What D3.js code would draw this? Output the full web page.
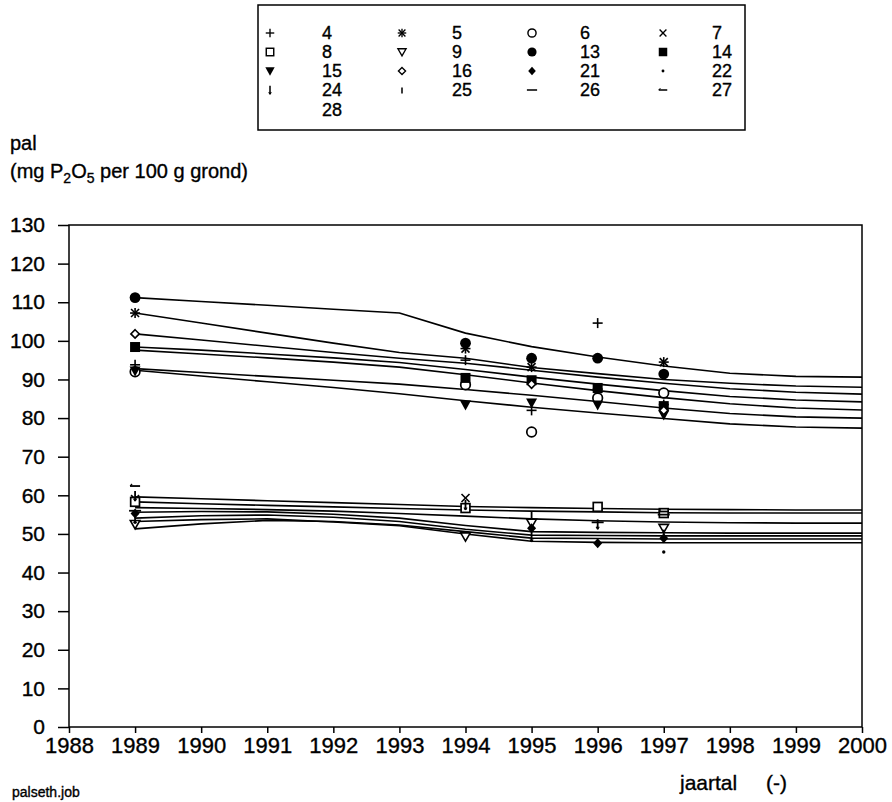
<!DOCTYPE html>
<html>
<head>
<meta charset="utf-8">
<script src="https://cdn.jsdelivr.net/npm/d3@7"></script>
<style>
  html, body { margin: 0; padding: 0; background: #fff; }
  svg { display: block; }
  text { font-family: "Liberation Sans", Arial, Helvetica, sans-serif; fill: #000; stroke: #000; stroke-width: 0.35px; }
</style>
</head>
<body>
<svg id="chart" width="892" height="802"></svg>
<script>
// ---- data -------------------------------------------------------------
const series = ["4", "5", "6", "7", "8", "9", "13", "14", "15", "16", "21", "22", "24", "25", "26", "27", "28"];

// years with measured P-AL values
const measYears = [1989, 1994, 1995, 1996, 1997];
const obs4  = [93.8, 95.0, 82.0, 104.6, 83.5];
const obs5  = [107.2, 98.0, 93.2, 87.5, 94.5];
const obs6  = [92.0, 88.6, 76.4, 85.2, 86.5];
const obs7  = [59.0, 59.3, null, null, null];
const obs8  = [58.3, 56.7, null, 57.0, 55.4];
const obs9  = [52.5, 49.3, 52.8, null, 51.5];
const obs13 = [111.2, 99.4, 95.5, 95.5, 91.4];
const obs14 = [98.4, 90.4, 89.8, 87.8, 83.1];
const obs15 = [92.2, 83.4, 83.9, 83.4, 80.8];
const obs16 = [101.8, null, 88.8, null, 82.0];
const obs21 = [55.3, null, 51.5, 47.6, 48.9];
const obs22 = [53.0, null, null, null, 45.3];
const obs24 = [59.8, 57.5, 49.2, 52.5, 49.8];
const obs25 = [54.0, null, 54.9, null, null];
const obs26 = [56.0, null, null, 53.0, 55.0];
const obs27 = [62.4, null, null, null, 55.8];
const obs28 = [null, null, null, null, null];

// simulated course per year
const fitYears = [1989, 1990, 1991, 1992, 1993, 1994, 1995, 1996, 1997, 1998, 1999, 2000];
const fit13 = [111.2, 110.2, 109.2, 108.2, 107.2, 102.0, 98.5, 95.8, 93.5, 91.6, 90.8, 90.6];
const fit5  = [107.2, 104.6, 102.0, 99.4, 97.0, 95.5, 93.1, 91.5, 90.0, 89.0, 88.3, 88.0];
const fit16 = [101.8, 100.2, 98.6, 97.0, 95.5, 94.2, 92.4, 90.6, 89.0, 87.6, 86.7, 86.2];
const fit14 = [98.4, 97.6, 96.6, 95.6, 94.4, 92.6, 90.6, 88.8, 87.1, 85.6, 84.7, 84.2];
const fit4  = [97.6, 96.6, 95.6, 94.5, 93.2, 91.2, 89.1, 87.1, 85.3, 83.7, 82.6, 82.1];
const fit6  = [92.8, 91.8, 90.8, 89.8, 88.8, 87.4, 85.9, 84.3, 82.6, 81.2, 80.3, 80.0];
const fit15 = [92.4, 90.9, 89.4, 87.9, 86.3, 84.5, 82.8, 81.3, 79.9, 78.5, 77.7, 77.4];
const fit7  = [59.6, 59.1, 58.6, 58.1, 57.6, 57.1, 56.8, 56.6, 56.4, 56.3, 56.2, 56.2];
const fit8  = [58.3, 57.8, 57.4, 57.0, 56.6, 56.2, 55.9, 55.7, 55.5, 55.4, 55.4, 55.4];
const fit26 = [56.8, 56.6, 56.3, 55.9, 55.3, 54.6, 53.9, 53.4, 53.1, 52.9, 52.8, 52.8];
const fit28 = [55.6, 55.8, 55.7, 55.1, 54.1, 52.2, 50.6, 50.4, 50.3, 50.2, 50.2, 50.2];
const fit25 = [54.1, 54.7, 54.9, 54.3, 53.2, 51.2, 49.7, 49.6, 49.5, 49.5, 49.5, 49.5];
const fit9  = [51.3, 52.6, 53.5, 53.2, 52.3, 50.6, 48.9, 48.8, 48.7, 48.7, 48.7, 48.7];
const fit21 = [53.2, 53.7, 53.9, 53.1, 52.1, 50.0, 48.1, 47.8, 47.7, 47.7, 47.7, 47.7];

const xTicks = [1988, 1989, 1990, 1991, 1992, 1993, 1994, 1995, 1996, 1997, 1998, 1999, 2000];
const yTicks = [0, 10, 20, 30, 40, 50, 60, 70, 80, 90, 100, 110, 120, 130];

// ---- tables built from the arrays ------------------------------------
const obsBySeries = {
  "4": obs4, "5": obs5, "6": obs6, "7": obs7, "8": obs8, "9": obs9, "13": obs13,
  "14": obs14, "15": obs15, "16": obs16, "21": obs21, "22": obs22, "24": obs24,
  "25": obs25, "26": obs26, "27": obs27, "28": obs28
};
const fitBySeries = {
  "13": fit13, "5": fit5, "16": fit16, "14": fit14, "4": fit4, "6": fit6, "15": fit15,
  "7": fit7, "8": fit8, "26": fit26, "28": fit28, "25": fit25, "9": fit9, "21": fit21
};

// marker style per series
const symbolOf = {
  "4": "plus", "5": "star", "6": "circleOpen", "7": "cross",
  "8": "squareOpen", "9": "triOpen", "13": "circleFilled", "14": "squareFilled",
  "15": "triFilled", "16": "diamondOpen", "21": "diamondFilled", "22": "dot",
  "24": "arrowDown", "25": "tickUp", "26": "dash2", "27": "dash1", "28": "none"
};

// ---- layout -----------------------------------------------------------
const svg = d3.select("#chart");
const plot = { left: 69, right: 862, top: 225, bottom: 727 };

const x = d3.scaleLinear().domain([1988, 2000]).range([plot.left, plot.right]);
const y = d3.scaleLinear().domain([0, 130]).range([plot.bottom, plot.top]);

// ---- symbols ----------------------------------------------------------
function drawSymbol(g, type, cx, cy, k) {
  const s = g.append("g").attr("transform", `translate(${cx},${cy}) scale(${k})`);
  const ln = (x1, y1, x2, y2, w) => s.append("line")
    .attr("x1", x1).attr("y1", y1).attr("x2", x2).attr("y2", y2)
    .attr("stroke", "#000").attr("stroke-width", w || 1.6);
  switch (type) {
    case "plus":
      ln(-5, 0, 5, 0); ln(0, -5, 0, 5); break;
    case "cross":
      ln(-4, -4, 4, 4); ln(-4, 4, 4, -4); break;
    case "star":
      ln(-5, 0, 5, 0); ln(0, -5, 0, 5); ln(-4, -4, 4, 4); ln(-4, 4, 4, -4); break;
    case "circleOpen":
      s.append("circle").attr("r", 4.8).attr("fill", "#fff").attr("stroke", "#000").attr("stroke-width", 1.7); break;
    case "circleFilled":
      s.append("circle").attr("r", 5.4).attr("fill", "#000"); break;
    case "squareOpen":
      s.append("rect").attr("x", -4.4).attr("y", -4.4).attr("width", 8.8).attr("height", 8.8)
        .attr("fill", "#fff").attr("stroke", "#000").attr("stroke-width", 1.7); break;
    case "squareFilled":
      s.append("rect").attr("x", -5).attr("y", -5).attr("width", 10).attr("height", 10).attr("fill", "#000"); break;
    case "triOpen":
      s.append("path").attr("d", "M-4.8,-3.8L4.8,-3.8L0,4.6Z")
        .attr("fill", "#fff").attr("stroke", "#000").attr("stroke-width", 1.6); break;
    case "triFilled":
      s.append("path").attr("d", "M-5.5,-4.5L5.5,-4.5L0,5.5Z").attr("fill", "#000"); break;
    case "diamondOpen":
      s.append("path").attr("d", "M0,-4.2L4.2,0L0,4.2L-4.2,0Z")
        .attr("fill", "#fff").attr("stroke", "#000").attr("stroke-width", 1.6); break;
    case "diamondFilled":
      s.append("path").attr("d", "M0,-5L4.5,0L0,5L-4.5,0Z").attr("fill", "#000"); break;
    case "dot":
      s.append("circle").attr("r", 1.7).attr("fill", "#000"); break;
    case "arrowDown":
      ln(0, -5, 0, 5, 1.8); ln(-1.5, 2.5, 0, 5, 1.2); ln(1.5, 2.5, 0, 5, 1.2); break;
    case "tickUp":
      ln(0, -3, 0, 4, 1.8); break;
    case "dash2":
      ln(-6, 0, 6, 0, 1.8); break;
    case "dash1":
      ln(-5, 0, 5, 0, 1.8); ln(-5, 0, -3, -2, 1.2); break;
    default: break;
  }
}

// ---- frame and axes ---------------------------------------------------
const frame = svg.append("g");
frame.append("rect")
  .attr("x", plot.left).attr("y", plot.top)
  .attr("width", plot.right - plot.left).attr("height", plot.bottom - plot.top)
  .attr("fill", "none").attr("stroke", "#000").attr("stroke-width", 1.5);

const yAxis = svg.append("g")
  .attr("transform", `translate(${plot.left},0)`)
  .call(d3.axisLeft(y).tickValues(yTicks).tickSize(11).tickPadding(13).tickFormat(d3.format("d")));
yAxis.select(".domain").remove();
yAxis.selectAll(".tick line").attr("stroke", "#000").attr("stroke-width", 1.5);
yAxis.selectAll(".tick text")
  .style("font-family", "'Liberation Sans', Arial, sans-serif")
  .style("font-size", "21px").attr("fill", "#000");

const xAxis = svg.append("g")
  .attr("transform", `translate(0,${plot.bottom})`)
  .call(d3.axisBottom(x).tickValues(xTicks).tickSize(6).tickPadding(4).tickFormat(d3.format("d")));
xAxis.select(".domain").remove();
xAxis.selectAll(".tick line").attr("stroke", "#000").attr("stroke-width", 1.5);
xAxis.selectAll(".tick text")
  .style("font-family", "'Liberation Sans', Arial, sans-serif")
  .style("font-size", "22px").attr("fill", "#000");

// axis titles
svg.append("text").attr("x", 10).attr("y", 150).style("font-size", "20px").text("pal");
const yTitle = svg.append("text").attr("x", 10).attr("y", 178).style("font-size", "20px");
yTitle.append("tspan").text("(mg P");
yTitle.append("tspan").attr("dy", 5).style("font-size", "14px").text("2");
yTitle.append("tspan").attr("dy", -5).text("O");
yTitle.append("tspan").attr("dy", 5).style("font-size", "14px").text("5");
yTitle.append("tspan").attr("dy", -5).text(" per 100 g grond)");

svg.append("text").attr("x", 680).attr("y", 790).style("font-size", "21px").text("jaartal");
svg.append("text").attr("x", 766).attr("y", 790).style("font-size", "21px").text("(-)");
svg.append("text").attr("x", 12).attr("y", 797).style("font-size", "14px").text("palseth.job");

// ---- simulated lines --------------------------------------------------
const line = d3.line().x(d => x(d[0])).y(d => y(d[1]));
const lineG = svg.append("g");
Object.keys(fitBySeries).forEach(key => {
  const vals = fitBySeries[key];
  lineG.append("path")
    .datum(fitYears.map((yr, i) => [yr, vals[i]]))
    .attr("d", line)
    .attr("fill", "none").attr("stroke", "#000").attr("stroke-width", 1.6)
    .attr("stroke-linejoin", "round");
});

// ---- measured points --------------------------------------------------
const ptG = svg.append("g");
series.forEach(key => {
  const vals = obsBySeries[key];
  measYears.forEach((yr, i) => {
    if (vals[i] == null) return;
    drawSymbol(ptG, symbolOf[key], x(yr), y(vals[i]), 1);
  });
});

// ---- legend -----------------------------------------------------------
const legend = svg.append("g");
legend.append("rect").attr("x", 258).attr("y", 5).attr("width", 487).attr("height", 125)
  .attr("fill", "#fff").attr("stroke", "#000").attr("stroke-width", 1.5);
const legRows = [["4", "5", "6", "7"], ["8", "9", "13", "14"], ["15", "16", "21", "22"], ["24", "25", "26", "27"], ["28"]];
const symX = [270, 402, 532, 663];
const labX = [322, 452, 580, 712];
const rowY = [33, 52, 71, 90, 110];
legRows.forEach((row, r) => {
  row.forEach((key, c) => {
    drawSymbol(legend, symbolOf[key], symX[c], rowY[r], 0.85);
    legend.append("text").attr("x", labX[c]).attr("y", rowY[r]).attr("dy", "0.36em")
      .style("font-size", "18px").text(key);
  });
});
</script>
</body>
</html>
